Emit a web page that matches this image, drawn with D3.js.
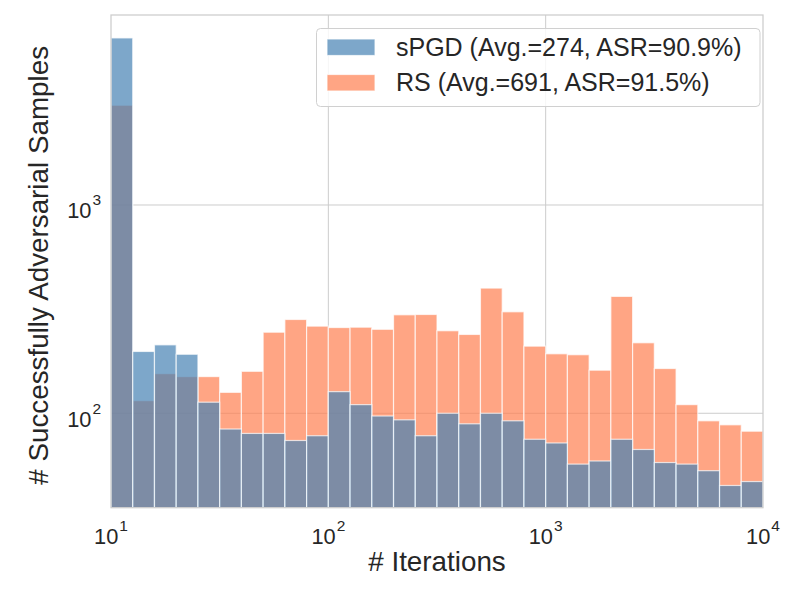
<!DOCTYPE html>
<html>
<head>
<meta charset="utf-8">
<script src="https://cdn.jsdelivr.net/npm/d3@7"></script>
<style>
  body { margin: 0; background: #fff; }
  text { font-family: "Liberation Sans", Arial, sans-serif; fill: #262626; }
</style>
</head>
<body>
<svg id="canvas" width="797" height="598"></svg>
<script>
// one bin per 0.1 decade, 10 .. 10^4
let binEdges = d3.range(31).map(i => Math.pow(10, 1 + i / 10));

let spgdCounts = [6340, 198, 213, 192, 113, 84, 80, 80, 74, 78,
                  127, 110, 97, 93, 78, 100, 89, 100, 92, 75,
                  72, 57, 59, 75, 67, 58, 57, 53, 45, 47];
let rsCounts = [3013, 115, 155, 150, 150, 126, 159, 245, 282, 262,
                258, 259, 253, 297, 298, 249, 239, 399, 307, 210,
                193, 191, 161, 364, 218, 164, 110, 92, 88, 82];

let seriesNames = ["sPGD (Avg.=274, ASR=90.9%)", "RS (Avg.=691, ASR=91.5%)"];
let seriesColors = ["steelblue", "coral"];

let xTicks = [10, 100, 1000, 10000];
let yTicks = [100, 1000];

let svg = d3.select("#canvas");

let plotLeft = 111, plotRight = 763, plotTop = 15, plotBottom = 507.7;

let xScale = d3.scaleLog().domain([10, 10000]).range([plotLeft, plotRight]);
let yScale = d3.scaleLog().domain([35.2, 8170]).range([plotBottom, plotTop]);

// grid
svg.append("g").selectAll("line")
  .data(xTicks.slice(1, -1))
  .enter().append("line")
  .attr("x1", d => xScale(d)).attr("x2", d => xScale(d))
  .attr("y1", plotTop).attr("y2", plotBottom)
  .attr("stroke", "#cccccc").attr("stroke-width", 1);

svg.append("g").selectAll("line")
  .data(yTicks)
  .enter().append("line")
  .attr("x1", plotLeft).attr("x2", plotRight)
  .attr("y1", d => yScale(d)).attr("y2", d => yScale(d))
  .attr("stroke", "#cccccc").attr("stroke-width", 1);

let drawBars = (counts, color) => {
  svg.append("g").selectAll("rect")
    .data(counts)
    .enter().append("rect")
    .attr("x", (d, i) => xScale(binEdges[i]))
    .attr("width", (d, i) => xScale(binEdges[i + 1]) - xScale(binEdges[i]))
    .attr("y", d => yScale(d))
    .attr("height", d => plotBottom - yScale(d))
    .attr("fill", color).attr("fill-opacity", 0.7)
    .attr("stroke", "white").attr("stroke-opacity", 0.7)
    .attr("stroke-width", 1.2);
};

// RS underneath, sPGD on top
drawBars(rsCounts, seriesColors[1]);
drawBars(spgdCounts, seriesColors[0]);

// frame
svg.append("rect")
  .attr("x", plotLeft).attr("y", plotTop)
  .attr("width", plotRight - plotLeft).attr("height", plotBottom - plotTop)
  .attr("fill", "none").attr("stroke", "#cccccc").attr("stroke-width", 1.25);

// x tick labels
let xLab = svg.append("g").selectAll("text")
  .data(xTicks)
  .enter().append("text")
  .attr("x", d => xScale(d))
  .attr("y", 544)
  .attr("text-anchor", "middle")
  .style("font-size", "21.8px");
xLab.append("tspan").text("10");
xLab.append("tspan").attr("dx", 1).attr("dy", -13).style("font-size", "15.5px")
  .text(d => Math.round(Math.log10(d)));

// y tick labels
let yLab = svg.append("g").selectAll("text")
  .data(yTicks)
  .enter().append("text")
  .attr("x", 101)
  .attr("y", d => yScale(d) + 13.5)
  .attr("text-anchor", "end")
  .style("font-size", "21.8px");
yLab.append("tspan").text("10");
yLab.append("tspan").attr("dx", 1).attr("dy", -13).style("font-size", "15.5px")
  .text(d => Math.round(Math.log10(d)));

// axis titles
svg.append("text")
  .attr("x", (plotLeft + plotRight) / 2).attr("y", 571)
  .attr("text-anchor", "middle")
  .style("font-size", "27.8px")
  .text("# Iterations");

svg.append("text")
  .attr("transform", `translate(48,${(plotTop + plotBottom) / 2 + 4}) rotate(-90)`)
  .attr("text-anchor", "middle")
  .style("font-size", "27.8px")
  .text("# Successfully Adversarial Samples");

// legend
let legend = svg.append("g");
legend.append("rect")
  .attr("x", 316.5).attr("y", 28.5)
  .attr("width", 443.5).attr("height", 78)
  .attr("rx", 4)
  .attr("fill", "white").attr("fill-opacity", 0.8)
  .attr("stroke", "#d0d0d0").attr("stroke-width", 1);

let legendRows = [0, 1];
legend.selectAll("rect.patch")
  .data(legendRows)
  .enter().append("rect")
  .attr("class", "patch")
  .attr("x", 327).attr("y", d => 39 + d * 35.5)
  .attr("width", 48).attr("height", 16.5)
  .attr("fill", d => seriesColors[d]).attr("fill-opacity", 0.7)
  .attr("stroke", "white").attr("stroke-opacity", 0.7).attr("stroke-width", 1.2);

legend.selectAll("text")
  .data(legendRows)
  .enter().append("text")
  .attr("x", 396).attr("y", d => 56 + d * 35.3)
  .style("font-size", "25px")
  .text(d => seriesNames[d]);
</script>
</body>
</html>
